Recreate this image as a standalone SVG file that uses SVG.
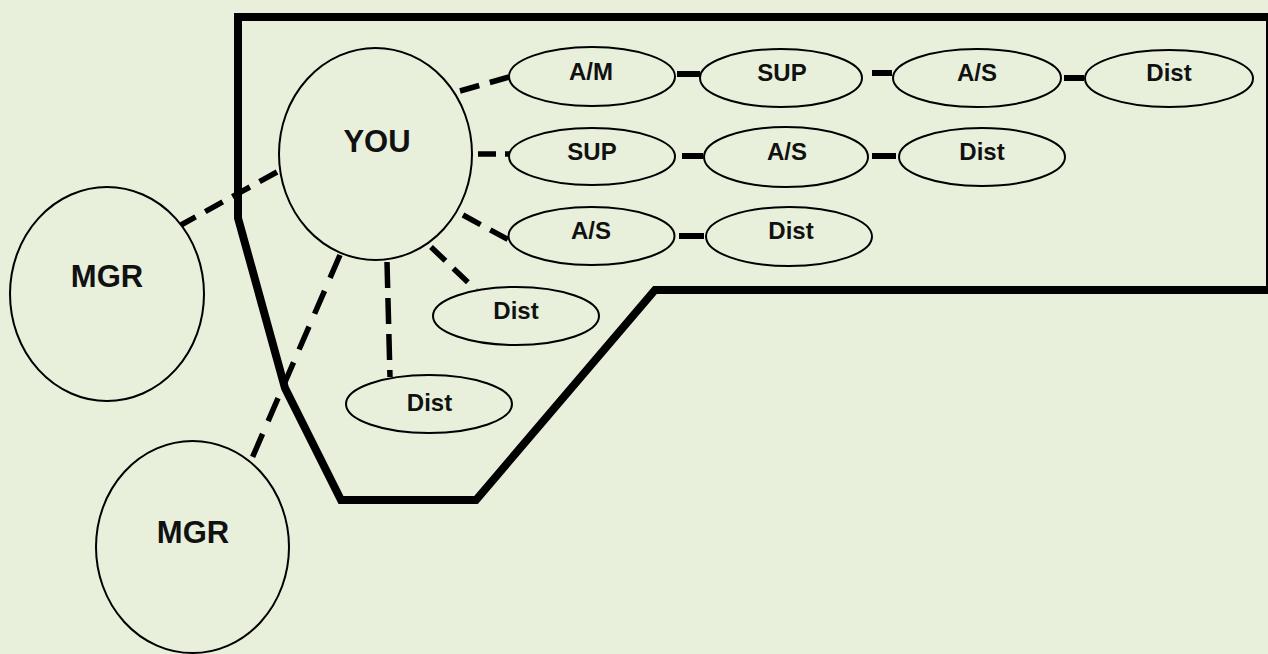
<svg xmlns="http://www.w3.org/2000/svg" width="1268" height="654" viewBox="0 0 1268 654">
<style>
.bg{fill:#e8f0db}
.frame{fill:none;stroke:#000;stroke-width:8;stroke-linejoin:miter}
.node{fill:#e8f0db;stroke:#000;stroke-width:2}
.lbl{font-family:"Liberation Sans",Arial,sans-serif;font-weight:bold;font-size:24px;text-anchor:middle;fill:#111}
.big{font-size:31px}
.dash{stroke:#000;stroke-width:5.5;fill:none;stroke-dasharray:20 11}
.link{stroke:#000;stroke-width:6;fill:none}
</style>
<rect class="bg" x="0" y="0" width="1268" height="654"/>
<polygon id="zone" class="frame" points="238,17 1270,17 1270,290 655,290 476,500 341,500 285,388 238,218"/>
<g id="connectors">
<line class="dash" x1="460" y1="91" x2="509" y2="77"/>
<line class="dash" x1="478" y1="154" x2="513" y2="154" style="stroke-dasharray:18 9"/>
<line class="dash" x1="463" y1="215" x2="509" y2="240"/>
<line class="dash" x1="431" y1="247" x2="476" y2="290"/>
<line class="dash" x1="387" y1="262" x2="390" y2="377" style="stroke-dasharray:26 10"/>
<line class="dash" x1="340" y1="255" x2="250" y2="463" style="stroke-dasharray:25 14"/>
<line class="dash" x1="277" y1="172" x2="181" y2="225"/>
<line class="link" x1="677" y1="74" x2="700" y2="74"/>
<line class="link" x1="872" y1="73" x2="892" y2="73"/>
<line class="link" x1="1064" y1="78" x2="1084" y2="78"/>
<line class="link" x1="682" y1="156" x2="703" y2="156"/>
<line class="link" x1="872" y1="156" x2="896" y2="156"/>
<line class="link" x1="679" y1="236" x2="704" y2="236"/>
</g>
<g id="you"><ellipse class="node" cx="375.5" cy="154" rx="96.5" ry="106"/><text class="lbl big" x="377" y="152">YOU</text></g>
<g id="mgr1"><ellipse class="node" cx="107" cy="294" rx="97" ry="107"/><text class="lbl big" x="107" y="287">MGR</text></g>
<g id="mgr2"><ellipse class="node" cx="192.5" cy="547" rx="96.5" ry="106"/><text class="lbl big" x="193" y="543">MGR</text></g>
<g id="am1"><ellipse class="node" cx="592" cy="76.5" rx="83" ry="29.5"/><text class="lbl" x="591" y="80">A/M</text></g>
<g id="sup1"><ellipse class="node" cx="781" cy="78" rx="81" ry="29"/><text class="lbl" x="782" y="81">SUP</text></g>
<g id="as1"><ellipse class="node" cx="977" cy="78" rx="84" ry="29"/><text class="lbl" x="977" y="81">A/S</text></g>
<g id="dist1"><ellipse class="node" cx="1169" cy="78.5" rx="84" ry="28.5"/><text class="lbl" x="1169" y="81">Dist</text></g>
<g id="sup2"><ellipse class="node" cx="592" cy="156.5" rx="83" ry="28.5"/><text class="lbl" x="592" y="160">SUP</text></g>
<g id="as2"><ellipse class="node" cx="786" cy="157" rx="82" ry="30"/><text class="lbl" x="787" y="160">A/S</text></g>
<g id="dist2"><ellipse class="node" cx="982" cy="157" rx="83" ry="29"/><text class="lbl" x="982" y="160">Dist</text></g>
<g id="as3"><ellipse class="node" cx="591.5" cy="236" rx="83" ry="29"/><text class="lbl" x="591" y="239">A/S</text></g>
<g id="dist3"><ellipse class="node" cx="789" cy="236.5" rx="83" ry="29.5"/><text class="lbl" x="791" y="239">Dist</text></g>
<g id="dist4"><ellipse class="node" cx="516" cy="316" rx="83" ry="29"/><text class="lbl" x="516" y="319">Dist</text></g>
<g id="dist5"><ellipse class="node" cx="429" cy="404" rx="83" ry="29"/><text class="lbl" x="429.5" y="411">Dist</text></g>
</svg>
